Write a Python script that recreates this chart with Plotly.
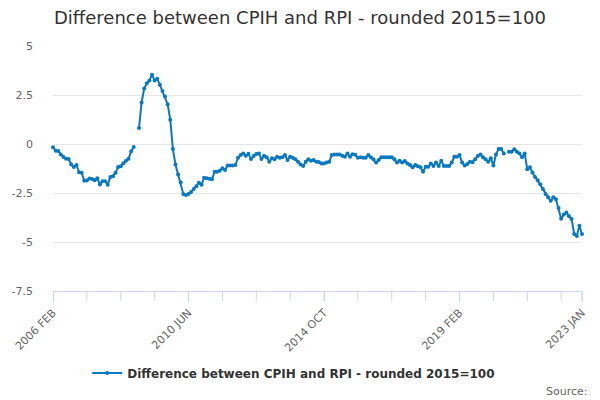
import plotly.graph_objects as go

# ---- Data ----
years = list(range(2006, 2024))
month_names = ["JAN", "FEB", "MAR", "APR", "MAY", "JUN",
               "JUL", "AUG", "SEP", "OCT", "NOV", "DEC"]
categories = [f"{y} {m}" for y in years for m in month_names][1:205]  # 2006 FEB .. 2023 JAN

diff_2006_2009 = [
    -0.17, -0.34, -0.36, -0.54, -0.66, -0.75, -0.77, -1.05, -1.17, -1.07,
    -1.44, -1.47, -1.88, -1.86, -1.76, -1.78, -1.85, -1.75, -2.07, -1.90,
    -1.90, -2.08, -1.68, -1.64, -1.47, -1.17, -1.14, -0.98, -0.85, -0.75,
    -0.37, -0.15, None, 0.81, 2.12, 2.83, 3.10, 3.24, 3.53, 3.24,
    3.33, 3.02, 2.71, 2.42, 2.03, 1.24, -0.25, -1.05, -1.56, -1.95,
]
diff_2010_2014 = [
    -2.55, -2.60, -2.55, -2.45, -2.30, -2.15, -1.98, -2.08, -1.72, -1.75,
    -1.77, -1.80, -1.42, -1.41, -1.36, -1.24, -1.33, -1.10, -1.10, -1.10,
    -1.07, -0.70, -0.56, -0.48, -0.60, -0.50, -0.77, -0.61, -0.51, -0.48,
    -0.77, -0.60, -0.68, -0.90, -0.73, -0.78, -0.65, -0.70, -0.68, -0.56,
    -0.82, -0.65, -0.70, -0.78, -0.90, -1.04, -1.12, -0.90, -0.78, -0.85,
    -0.82, -0.90, -0.92,
]
diff_2014_2018 = [
    -0.99, -0.99, -0.95, -0.90, -0.56, -0.53, -0.53, -0.53, -0.60, -0.65,
    -0.48, -0.65, -0.52, -0.55, -0.70, -0.68, -0.70, -0.70, -0.56, -0.68,
    -0.78, -0.95, -0.82, -0.68, -0.68, -0.68, -0.68, -0.68, -0.78, -0.95,
    -0.85, -0.95, -0.87, -0.99, -1.07, -1.19, -1.07, -1.14, -1.19, -1.41,
    -1.16, -1.16, -0.99, -1.12, -0.95, -1.12, -0.85, -1.12, -1.12, -1.12,
    -0.95,
]
diff_2018_2023 = [
    -0.65, -0.65, -0.56, -0.95, -1.10, -1.02, -0.90, -0.93, -0.78, -0.61,
    -0.54, -0.68, -0.78, -0.90, -0.73, -1.10, -0.53, -0.26, -0.26, -0.48,
    None, -0.39, -0.39, -0.27, -0.39, -0.48, -0.68, -0.48, -1.29, -1.19,
    -1.46, -1.68, -1.85, -2.05, -2.30, -2.55, -2.72, -2.90, -2.72, -2.82,
    -3.27, -3.81, -3.60, -3.50, -3.68, -3.83, -4.59, -4.69, -4.17, -4.59,
]
values = diff_2006_2009 + diff_2010_2014 + diff_2014_2018 + diff_2018_2023

tick_idx = list(range(0, 196, 13)) + [203]
label_idx = [0, 52, 104, 156, 203]
y_ticks = [5, 2.5, 0, -2.5, -5, -7.5]
y_ticktext = ["5", "2.5", "0", "-2.5", "-5", "-7.5"]

series_name = "Difference between CPIH and RPI - rounded 2015=100"
blue = "#0a79c1"
axis_color = "#ccd6eb"

positions = list(range(len(categories)))  # category slots on the x axis

fig = go.Figure(
    go.Scatter(
        x=positions,
        y=values,
        text=categories,
        hovertemplate="%{text}: %{y}<extra></extra>",
        name=series_name,
        mode="lines+markers",
        line=dict(color=blue, width=2),
        marker=dict(color=blue, size=4),
        cliponaxis=False,
        showlegend=True,
    )
)

# tick marks every 13 categories, placed through the x axis scale
tick_shapes = [
    dict(
        type="line", xref="x", yref="y domain",
        x0=i, x1=i, y0=0, y1=-10 / 245,
        line=dict(color=axis_color, width=1),
        layer="above",
    )
    for i in tick_idx
]

fig.update_layout(
    width=600,
    height=400,
    autosize=False,
    paper_bgcolor="white",
    plot_bgcolor="white",
    font=dict(family="DejaVu Sans", color="#666666", size=11),
    margin=dict(l=48, r=18, t=46, b=109),
    title=dict(
        text=series_name,
        x=0.5, xref="container", xanchor="center",
        y=1 - 18 / 400, yref="container", yanchor="middle",
        font=dict(family="DejaVu Sans", size=18, color="#333333"),
    ),
    legend=dict(
        orientation="h",
        x=0.455, xanchor="center",
        y=-0.335, yanchor="middle",
        font=dict(family="DejaVu Sans", size=12, color="#333333", weight="bold"),
    ),
    shapes=tick_shapes,
    annotations=[
        dict(
            text="Source:", xref="paper", yref="paper",
            x=1.016, y=-0.412, xanchor="right", yanchor="middle",
            showarrow=False, font=dict(size=11, color="#666666"),
        )
    ],
    xaxis=dict(
        type="linear",
        range=[0, len(categories) - 1],
        showgrid=False,
        zeroline=False,
        showline=True,
        linecolor=axis_color,
        linewidth=1,
        ticks="outside",
        ticklen=10,
        tickwidth=1,
        tickcolor=axis_color,
        tickmode="array",
        tickvals=label_idx,
        ticktext=[categories[i] for i in label_idx],
        tickangle=-45,
        tickfont=dict(size=11, color="#666666"),
    ),
    yaxis=dict(
        range=[-7.5, 5],
        tickmode="array",
        tickvals=y_ticks,
        ticktext=y_ticktext,
        showgrid=True,
        gridcolor="#e6e6e6",
        zeroline=False,
        showline=False,
        ticks="",
        ticklabelstandoff=19,
        tickfont=dict(size=11, color="#666666"),
    ),
)

fig.write_html(
    "out.html",
    config={"displayModeBar": False},
    post_script="document.body.style.margin='0';document.body.style.overflow='hidden';",
)
